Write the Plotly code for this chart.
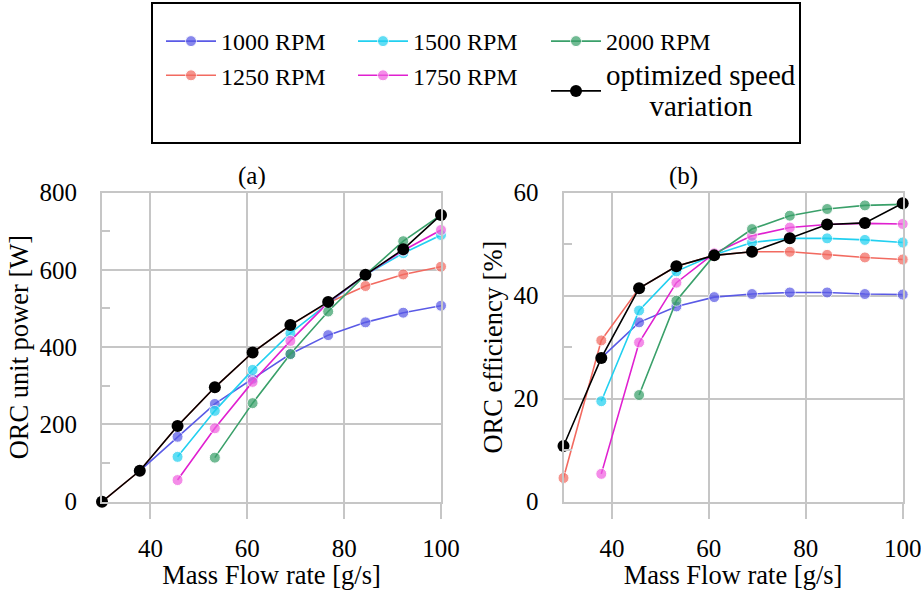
import plotly.graph_objects as go

# ---------------- data ----------------
flow = [30, 37.8, 45.6, 53.3, 61.1, 68.9, 76.7, 84.4, 92.2, 100]

power_1000 = [None, 80, 168, 253, 318, 382, 431, 464, 489, 507]
power_1250 = [0, 80, 196, 296, 386, 457, 515, 558, 588, 608]
power_1500 = [None, None, 116, 235, 341, 436, 513, 587, 643, 690]
power_1750 = [None, None, 56, 190, 310, 416, 515, 587, 650, 703]
power_2000 = [None, None, None, 114, 255, 382, 492, 587, 674, 742]
power_opt = [0, 80, 196, 296, 386, 457, 517, 587, 653, 742]

eff_1000 = [None, 27.9, 34.8, 37.9, 39.7, 40.3, 40.6, 40.6, 40.3, 40.2]
eff_1250 = [4.6, 31.3, 41.4, 45.7, 47.8, 48.5, 48.5, 47.9, 47.4, 47.0]
eff_1500 = [None, 19.5, 37.1, 44.7, 47.9, 50.3, 51.1, 51.1, 50.8, 50.3]
eff_1750 = [None, 5.4, 30.9, 42.5, 48.2, 51.6, 53.2, 53.8, 54.0, 53.9]
eff_2000 = [None, None, 20.7, 39.0, 47.8, 52.9, 55.5, 56.8, 57.5, 57.7]
eff_opt = [10.8, 27.9, 41.4, 45.7, 47.8, 48.5, 51.1, 53.8, 54.1, 57.9]

NB = "\u00a0"
names = ["1000 RPM", "1250 RPM", "1500 RPM", "1750 RPM", "2000 RPM",
         '<span style="font-size:29px">optimized speed</span><br>'
         '<span style="font-size:29px">' + NB * 6 + 'variation</span>']
power_series = [power_1000, power_1250, power_1500, power_1750, power_2000, power_opt]
eff_series = [eff_1000, eff_1250, eff_1500, eff_1750, eff_2000, eff_opt]
line_colors = ["#5a5ae6", "#f26a60", "#22d0f0", "#e020d0", "#3aa06a", "#000000"]
marker_colors = ["#5a5ae6", "#f26a60", "#22d0f0", "#f060e0", "#3aa06a", "#000000"]
legend_ids = ["legend", "legend", "legend2", "legend2", "legend3", "legend3"]

FONT = "Liberation Serif"
GRID = "#c6c6c6"
W, H = 921, 590


def fx(px):
    return px / W


def fy(py):
    return 1 - py / H


fig = go.Figure()

# draw order: red first (underneath), black last
order = [1, 0, 2, 3, 4, 5]
for i in order:
    is_opt = i == 5
    mk = dict(size=12 if is_opt else 11, color=marker_colors[i],
              opacity=1.0 if is_opt else 0.72,
              line=dict(width=0 if is_opt else 1, color="white"))
    fig.add_trace(go.Scatter(
        x=flow, y=power_series[i], name=names[i], mode="lines+markers",
        line=dict(color=line_colors[i], width=1.6), marker=mk,
        legend=legend_ids[i], legendrank=i + 1, showlegend=True,
        cliponaxis=False, xaxis="x", yaxis="y", connectgaps=False))
    fig.add_trace(go.Scatter(
        x=flow, y=eff_series[i], name=names[i], mode="lines+markers",
        line=dict(color=line_colors[i], width=1.6), marker=mk,
        showlegend=False,
        cliponaxis=False, xaxis="x2", yaxis="y2", connectgaps=False))

axis_common = dict(
    showgrid=True, gridcolor=GRID, gridwidth=1.5,
    showline=True, linecolor=GRID, linewidth=2, mirror=True,
    zeroline=False, automargin=False, ticklabeloverflow="allow",
    tickfont=dict(family=FONT, size=25, color="black"),
)
xcommon = dict(axis_common, range=[30, 100], tick0=0, dtick=20,
               ticks="outside", ticklen=15, tickcolor=GRID, tickwidth=1.5,
               ticklabelstandoff=8,
               title=dict(text="Mass Flow rate [g/s]",
                          font=dict(family=FONT, size=26.5, color="black"),
                          standoff=9))


def legend_at(px, py):
    return dict(orientation="v", x=fx(px), y=fy(py), xanchor="left",
                yanchor="top", bgcolor="rgba(0,0,0,0)", borderwidth=0,
                font=dict(family=FONT, size=24, color="black"),
                itemwidth=50, traceorder="normal", valign="middle")


ydom = [fy(501.7), fy(192.5)]

fig.update_layout(
    width=W, height=H,
    margin=dict(l=0, r=0, t=0, b=0),
    paper_bgcolor="white", plot_bgcolor="white",
    font=dict(family=FONT, size=25, color="black"),
    xaxis=dict(xcommon, domain=[fx(102), fx(441)], anchor="y"),
    xaxis2=dict(xcommon, domain=[fx(563.5), fx(902.7)], anchor="y2"),
    yaxis=dict(axis_common, domain=ydom, anchor="x",
               range=[0, 800], dtick=200, ticks="", ticklabelstandoff=18,
               minor=dict(dtick=100, ticks="inside", ticklen=8,
                          tickcolor=GRID, tickwidth=1.5, showgrid=False),
               title=dict(text="ORC unit power [W]",
                          font=dict(family=FONT, size=26.5, color="black"),
                          standoff=3)),
    yaxis2=dict(axis_common, domain=ydom, anchor="x2",
                range=[0, 60], dtick=20, ticks="", ticklabelstandoff=18,
                minor=dict(dtick=10, ticks="inside", ticklen=8,
                           tickcolor=GRID, tickwidth=1.5, showgrid=False),
                title=dict(text="ORC efficiency [%]",
                           font=dict(family=FONT, size=26.5, color="black"),
                           standoff=3)),
    legend=legend_at(161, 19),
    legend2=legend_at(353, 19),
    legend3=legend_at(546, 19),
    shapes=[dict(type="rect", xref="paper", yref="paper",
                 x0=fx(152), x1=fx(800), y0=fy(143), y1=fy(3),
                 line=dict(color="black", width=2), fillcolor="rgba(0,0,0,0)",
                 layer="below")],
    annotations=[
        dict(text="(a)", x=fx(236), y=fy(160), xref="paper", yref="paper",
             showarrow=False, font=dict(family=FONT, size=25, color="black")),
        dict(text="(b)", x=fx(700), y=fy(160), xref="paper", yref="paper",
             showarrow=False, font=dict(family=FONT, size=25, color="black")),
    ],
)

fig.write_html(
    "out.html",
    config={"displayModeBar": False},
    post_script="document.body.style.margin='0px';"
                "document.body.style.overflow='hidden';",
)
